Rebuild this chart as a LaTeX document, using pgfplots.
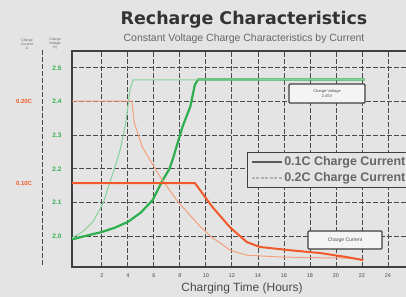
\documentclass[border=0pt]{standalone}
\usepackage{pgfplots}
\pgfplotsset{compat=1.18}
\usepackage{fontspec}
\setmainfont{Liberation Sans}
\newfontfamily\titlefont{DejaVu Sans}
\definecolor{bg}{HTML}{E4E4E4}
\definecolor{gthick}{HTML}{2EAF4E}
\definecolor{gthin}{HTML}{86D29A}
\definecolor{othick}{HTML}{F05A2A}
\definecolor{othin}{HTML}{F4A07C}
\definecolor{gridc}{HTML}{4A4A4A}
\definecolor{txt}{HTML}{4A4A4A}
\begin{document}
\begin{tikzpicture}[x=1bp,y=1bp]
\useasboundingbox (0,0) rectangle (406,297);
\fill[bg] (0,0) rectangle (406,297);
\clip (0,0) rectangle (406,297);
\node[font=\titlefont\bfseries\fontsize{17.5}{18}\selectfont, text=black!80] at (244,277) {Recharge Characteristics};
\node[font=\fontsize{10.5}{11}\selectfont, text=black!60] at (244,258.5) {Constant Voltage Charge Characteristics by Current};
\node[font=\fontsize{3.5}{4}\selectfont, align=center, text=black!60, inner sep=0pt] at (27,253) {Charge\\Current\\A};
\node[font=\fontsize{3.5}{4}\selectfont, align=center, text=black!60, inner sep=0pt] at (55,253) {Charge\\Voltage\\(V)};
\draw[gridc, line width=1bp, dash pattern=on 5bp off 2bp] (42,32) -- (42,247);

\begin{axis}[
  at={(72bp,30bp)}, anchor=south west, scale only axis,
  width=342bp, height=216bp,
  xmin=-0.3, xmax=26, ymin=1.908, ymax=2.55,
  axis line style={line width=1.6bp, black!75},
  grid=major,
  major grid style={gridc, line width=0.9bp, dash pattern=on 5bp off 2bp},
  xtick={2,4,...,24},
  ytick={2.0,2.1,2.2,2.3,2.4,2.5},
  major tick length=0pt,
  /pgf/number format/assume math mode=true,
  xticklabel style={font=\fontsize{5.5}{6}\selectfont, text=txt, yshift=-3bp},
  yticklabel={\pgfmathprintnumber[fixed,fixed zerofill,precision=1,assume math mode=true]{\tick}},
  yticklabel style={font=\bfseries\fontsize{6.5}{7}\selectfont, text=gthick, anchor=center, xshift=-15bp},
  xlabel={Charging Time (Hours)},
  xlabel style={at={(axis description cs:0.497,0)}, anchor=center, yshift=-21bp, font=\fontsize{12}{13}\selectfont, text=txt},
]
\addplot[gthick, line width=2.2bp] coordinates {
(-0.3,1.99) (0,1.993) (1,2.003) (2,2.012) (3,2.025) (4,2.042) (5,2.07) (5.9,2.107) (6.6,2.161) (7.2,2.2) (7.5,2.235) (8.2,2.325) (8.8,2.385) (9.15,2.45) (9.4,2.465) (22.2,2.465)};
\addplot[gthin, line width=1bp] coordinates {
(-0.3,1.995) (0.5,2.012) (1.3,2.042) (2.1,2.098) (2.6,2.158) (3.0,2.205) (3.4,2.256) (3.8,2.33) (4.0,2.384) (4.15,2.434) (4.4,2.464) (22.2,2.465)};
\end{axis}

\begin{axis}[
  at={(72bp,30bp)}, anchor=south west, scale only axis,
  width=342bp, height=216bp,
  xmin=-0.3, xmax=26, ymin=-0.0024, ymax=0.261,
  axis line style={draw=none},
  xtick=\empty,
  ytick={0.1,0.2}, yticklabels={0.10C,0.20C},
  major tick length=0pt,
  yticklabel style={font=\bfseries\fontsize{6}{7}\selectfont, text=othick, anchor=center, xshift=-48bp},
  legend style={at={(0.5117,0.532)}, anchor=north west, draw=black!75, line width=1.4bp,
    fill=bg, font=\bfseries\fontsize{12.5}{14}\selectfont, text=black!60,
    inner xsep=3bp, inner ysep=2bp, row sep=1.5bp},
  legend cell align=left,
  legend image code/.code={\draw[#1] (0bp,0bp) -- (30bp,0bp);},
]
\addlegendimage{black!65, line width=1.6bp}
\addlegendentry{0.1C Charge Current}
\addlegendimage{black!30, line width=1.6bp, dash pattern=on 3bp off 1.5bp}
\addlegendentry{0.2C Charge Current}
\addplot[othin, line width=1bp, forget plot] coordinates {
(-0.3,0.2) (4.3,0.2) (4.5,0.173) (5.1,0.144) (5.55,0.132) (6.5,0.107) (7.85,0.077) (9.5,0.048) (10.5,0.033) (11.1,0.027) (11.85,0.018) (13.15,0.012) (15.7,0.0098) (18,0.009) (20.8,0.0085) (22,0.007)};
\addplot[othick, line width=2bp, forget plot] coordinates {
(-0.3,0.1) (9.15,0.1) (10.5,0.0707) (11.85,0.046) (13.15,0.028) (14.15,0.022) (16.5,0.018) (18.8,0.0146) (20.8,0.0098) (22.1,0.006)};
\end{axis}

\node[draw=black!75, line width=1.3bp, rounded corners=1bp, fill=bg!40!white, minimum width=76bp, minimum height=19bp, align=center, font=\fontsize{4}{4.5}\selectfont, text=black!70] at (327,203.5) {Charge Voltage\\2.45V};
\node[draw=black!75, line width=1.3bp, rounded corners=1bp, fill=bg!40!white, minimum width=74bp, minimum height=18bp, font=\fontsize{5}{6}\selectfont, text=black!70] at (345,57) {Charge Current};
\end{tikzpicture}
\end{document}
